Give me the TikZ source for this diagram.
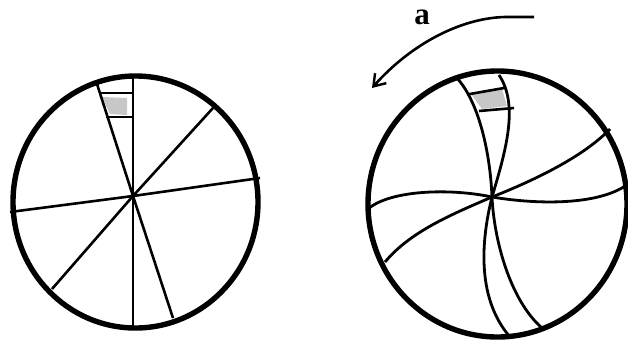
\documentclass[tikz,border=0pt]{standalone}
\usepackage{fontspec}
\setmainfont{Liberation Serif}
\usetikzlibrary{arrows.meta}
\begin{document}
\begin{tikzpicture}[x=1pt,y=-1pt,
  rim/.style={line width=5.4pt},
  spoke/.style={line width=2.6pt},
  mer/.style={line width=2.8pt},
  patch/.style={fill=black!22, draw=none},
  lbl/.style={font=\fontsize{31}{31}\selectfont\bfseries, inner sep=0pt, anchor=base}]
\useasboundingbox (0,0) rectangle (628,341);
% ---------- left disc ----------
\coordinate (lc) at (133,196);
\fill[patch] (102,97) -- (127,98) -- (127,115) -- (110,114) -- cycle;
\draw[spoke] (133,76) -- (lc) -- (133,328);
\draw[spoke] (97,84) -- (lc) -- (173,318);
\draw[spoke] (213,108) -- (lc) -- (52,289);
\draw[spoke] (260,178) -- (lc) -- (10,212);
\draw[spoke] (99,93) -- (133,93);
\draw[spoke] (106,117) -- (133,117);
\draw[rim] (135.5,202) ellipse [x radius=122.5, y radius=126];
% ---------- right disc ----------
\coordinate (rc) at (492,197);
\fill[patch] (471,94) -- (502,89) -- (507,106) -- (482,109) -- cycle;
\draw[mer] (368,209) .. controls (390,190) and (450,188) .. (rc)
               .. controls (540,205) and (600,205) .. (628,184);
\draw[mer] (385,262) .. controls (410,232) and (450,215) .. (rc)
               .. controls (540,178) and (585,155) .. (610,129);
\draw[mer] (456,77) .. controls (478,100) and (490,150) .. (rc)
               .. controls (494,240) and (510,300) .. (542,328);
\draw[mer] (499,75) .. controls (519,105) and (506,150) .. (rc)
               .. controls (480,245) and (478,300) .. (510,337);
\draw[spoke] (467,94.5) -- (504,88);
\draw[spoke] (479,111) -- (514,108);
\draw[rim] (497.5,204) ellipse [x radius=129.5, y radius=133];
% ---------- rotation arrow ----------
\coordinate (as) at (534,17);
\coordinate (ae) at (372,88);
\draw[line width=2.6pt, -{Straight Barb[length=11pt,width=15pt,line width=2.4pt]}]
  (as) -- (505,17) .. controls (460,18) and (410,45) .. (ae);
\node[lbl] (la) at (422,24) {a};
\end{tikzpicture}
\end{document}
